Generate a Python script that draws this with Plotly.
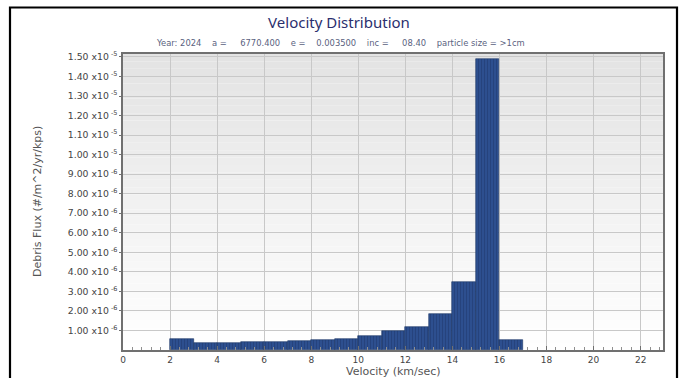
import plotly.graph_objects as go

# ---- data ----
bin_left = [2, 3, 4, 5, 6, 7, 8, 9, 10, 11, 12, 13, 14, 15, 16]          # km/sec
flux_e6 = [0.55, 0.37, 0.37, 0.42, 0.42, 0.46, 0.50, 0.54,
           0.72, 0.98, 1.18, 1.85, 3.50, 14.88, 0.50]                   # x1e-6 #/m^2/yr/kps
x_tick_vals = [0, 2, 4, 6, 8, 10, 12, 14, 16, 18, 20, 22]
y_tick_mant = [1.00, 2.00, 3.00, 4.00, 5.00, 6.00, 7.00, 8.00, 9.00,
               1.00, 1.10, 1.20, 1.30, 1.40, 1.50]
y_tick_exp = [-6, -6, -6, -6, -6, -6, -6, -6, -6, -5, -5, -5, -5, -5, -5]

title_text = "Velocity Distribution"
subtitle_parts = ["Year: 2024", "a =", "6770.400", "e =", "0.003500",
                  "inc =", "08.40", "particle size = &gt;1cm"]
subtitle_gaps = [4, 5, 4, 4, 4, 5, 4]
x_title = "Velocity (km/sec)"
y_title = "Debris Flux (#/m^2/yr/kps)"

bin_center = [b + 0.5 for b in bin_left]
flux = [v * 1e-6 for v in flux_e6]
y_tick_vals = [m * 10.0 ** e for m, e in zip(y_tick_mant, y_tick_exp)]
y_tick_text = [f"{m:.2f} x10<sup> {e}</sup>" for m, e in zip(y_tick_mant, y_tick_exp)]
subtitle_text = subtitle_parts[0]
for g, p in zip(subtitle_gaps, subtitle_parts[1:]):
    subtitle_text += "&nbsp;" * g + p

W, H = 679, 378
ML, MR, MT, MB = 123, 16, 54, 28
PW, PH = W - ML - MR, H - MT - MB


def px_x(p):
    return (p - ML) / PW


def px_y(p):
    return (H - MB - p) / PH


FONT = "DejaVu Sans"

fig = go.Figure()
fig.add_trace(go.Bar(
    x=bin_center, y=flux, width=1.0,
    marker=dict(color="#2d4f8f",
                line=dict(color="#1d3566", width=0.6),
                pattern=dict(shape="|", size=3, solidity=0.3,
                             fgcolor="#1d3566", fillmode="overlay")),
    hoverinfo="x+y",
))

# gradient plot background
shapes = []
n = 40
top = (0xe3, 0xe3, 0xe3)
bot = (0xff, 0xff, 0xff)
for i in range(n):
    t = i / (n - 1)
    c = tuple(int(round(bot[k] + (top[k] - bot[k]) * t)) for k in range(3))
    shapes.append(dict(type="rect", xref="x domain", yref="y domain",
                       x0=0, x1=1, y0=i / n, y1=(i + 1) / n,
                       fillcolor="rgb(%d,%d,%d)" % c, line=dict(width=0),
                       layer="below"))
# outer black frame
shapes.append(dict(type="rect", xref="paper", yref="paper",
                   x0=px_x(10), x1=px_x(677), y0=px_y(400), y1=px_y(7.5),
                   line=dict(color="black", width=2.2), fillcolor="rgba(0,0,0,0)"))

fig.update_layout(
    width=W, height=H,
    margin=dict(l=ML, r=MR, t=MT, b=MB),
    paper_bgcolor="white", plot_bgcolor="white",
    showlegend=False, bargap=0,
    font=dict(family=FONT, size=9, color="#333333"),
    title=dict(text=title_text, x=px_x(339), xref="paper", xanchor="center",
               y=1 - 23 / H, yref="container", yanchor="middle",
               font=dict(family="Noto Sans", size=15, color="#2b2f6e")),
    shapes=shapes,
    annotations=[
        dict(text=subtitle_text, xref="paper", yref="paper",
             x=px_x(340), y=px_y(43), xanchor="center", yanchor="middle",
             showarrow=False, font=dict(family=FONT, size=8.4, color="#5a5f80")),
        dict(text=x_title, xref="paper", yref="paper", x=0.5, y=px_y(371),
             xanchor="center", yanchor="middle", showarrow=False,
             font=dict(family=FONT, size=11, color="#555555")),
        dict(text=y_title, xref="paper", yref="paper", x=px_x(37), y=0.5,
             xanchor="center", yanchor="middle", textangle=-90, showarrow=False,
             font=dict(family=FONT, size=11, color="#555555")),
    ],
)

fig.update_xaxes(
    range=[0, 22.95], tickvals=x_tick_vals, ticktext=[str(v) for v in x_tick_vals],
    showgrid=True, gridcolor="#c8c8c8", gridwidth=1,
    showline=True, linecolor="#707070", linewidth=1.5, mirror=True,
    ticks="inside", ticklen=4, tickcolor="#707070",
    minor=dict(dtick=0.4, tick0=0, ticks="inside", ticklen=3, tickcolor="#909090",
               showgrid=False),
    zeroline=False, tickfont=dict(size=9, color="#444444", family=FONT),
)
fig.update_yaxes(
    range=[0, 1.515e-5], tickvals=y_tick_vals, ticktext=y_tick_text,
    showgrid=True, gridcolor="#c8c8c8", gridwidth=1,
    showline=True, linecolor="#707070", linewidth=1.5, mirror=True,
    ticks="outside", ticklen=2, tickcolor="#707070",
    zeroline=False, tickfont=dict(size=9.3, color="#444444", family=FONT),
)

fig.write_html("out.html")
